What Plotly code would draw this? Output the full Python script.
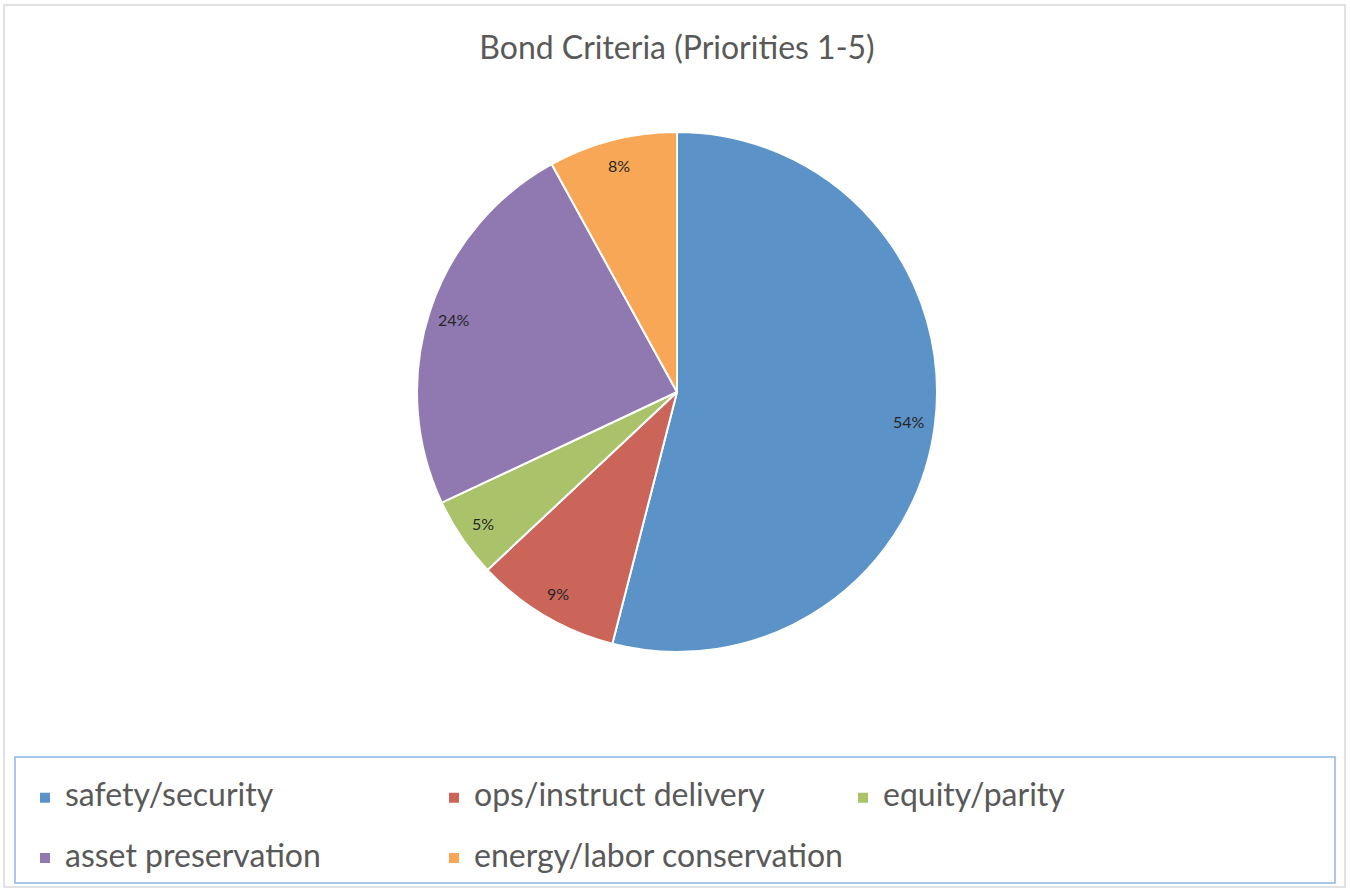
import math
import plotly.graph_objects as go

categories = ["safety/security", "ops/instruct delivery", "equity/parity",
              "asset preservation", "energy/labor conservation"]
shares = [54, 9, 5, 24, 8]
colors = ["#5B92C8", "#CB6459", "#AAC36A", "#9079B0", "#F8A757"]
title_text = "Bond Criteria (Priorities 1-5)"

W, H = 1350, 890
cx, cy, R = 677, 392, 260
FONT = "Lato, Open Sans, sans-serif"

fig = go.Figure(go.Pie(
    labels=[f"<span style='font-size:32px'>{c}</span><br> " for c in categories],
    values=shares,
    sort=False,
    direction="clockwise",
    rotation=0,
    marker=dict(colors=colors, line=dict(color="white", width=2)),
    textinfo="none",
    hoverinfo="label+percent",
    domain=dict(x=[(cx - R) / W, (cx + R) / W], y=[1 - (cy + R) / H, 1 - (cy - R) / H]),
))

# percentage labels placed along each slice's mid-angle
total = sum(shares)
cum = 0
annotations = []
for v in shares:
    mid = (cum + v / 2) / total * 2 * math.pi
    cum += v
    r = 0.9 * R
    sx = cx + r * math.sin(mid)
    sy = cy - r * math.cos(mid)
    annotations.append(dict(
        x=sx / W, y=1 - sy / H, xref="paper", yref="paper",
        text=f"{round(v / total * 100)}%", showarrow=False,
        font=dict(family=FONT, size=16, color="#262626"),
        xanchor="center", yanchor="middle"))

shapes = [
    dict(type="rect", xref="paper", yref="paper",
         x0=4 / W, x1=1345 / W, y0=1 - 887 / H, y1=1 - 5 / H,
         line=dict(color="#D9D9D9", width=1.5)),
    dict(type="rect", xref="paper", yref="paper",
         x0=15 / W, x1=1335 / W, y0=1 - 883 / H, y1=1 - 757 / H,
         line=dict(color="#8EB4E3", width=1.5)),
]

fig.update_layout(
    width=W, height=H,
    margin=dict(l=0, r=0, t=0, b=0, autoexpand=False),
    paper_bgcolor="white",
    title=dict(text=title_text, x=cx / W, xanchor="center", y=1 - 48 / H, yanchor="middle",
               font=dict(family=FONT, size=32, color="#595959")),
    legend=dict(orientation="h", x=25 / W, xanchor="left", y=1 - 777 / H, yanchor="top",
                font=dict(family=FONT, size=22, color="#595959"),
                entrywidth=364, entrywidthmode="pixels", valign="top",
                bgcolor="rgba(0,0,0,0)", borderwidth=0),
    annotations=annotations,
    shapes=shapes,
)

fig.write_html("out.html")
